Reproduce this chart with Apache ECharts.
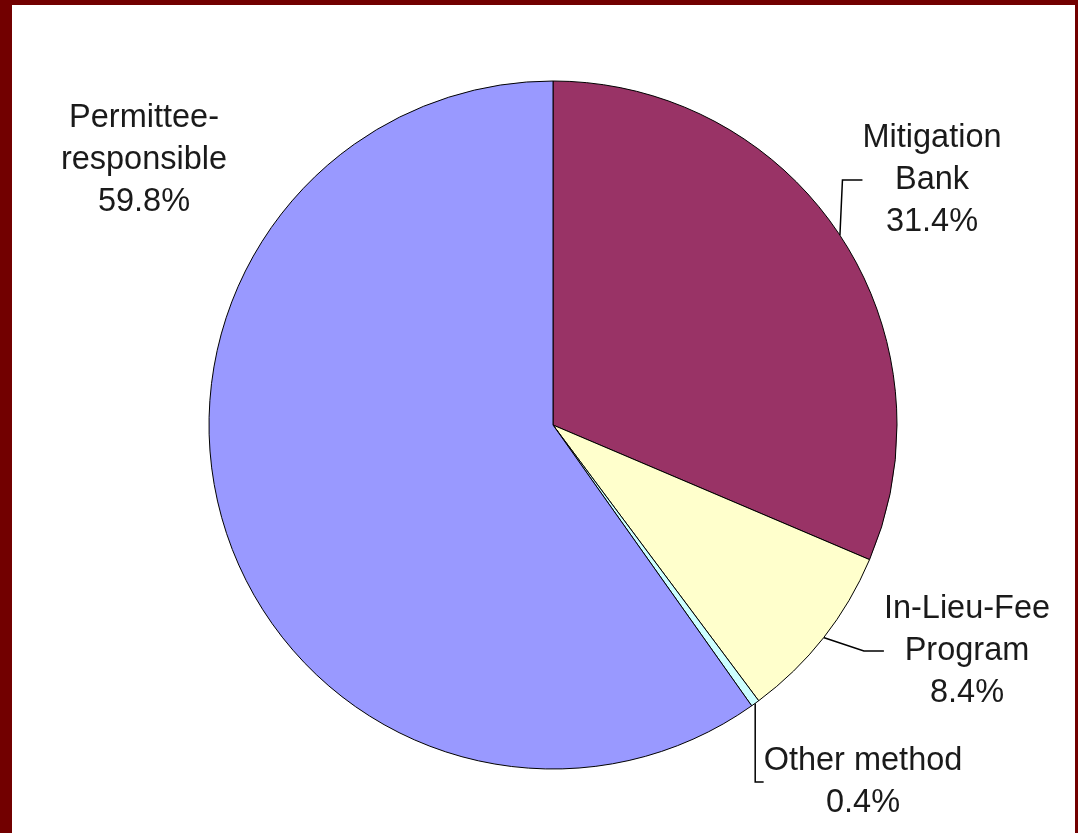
<!DOCTYPE html>
<html>
<head>
<meta charset="utf-8">
<script src="https://cdn.jsdelivr.net/npm/echarts@6/dist/echarts.min.js"></script>
<style>
    html, body { margin: 0; padding: 0; background: #fff; }
    #container {
        width: 1078px;
        height: 833px;
        box-sizing: border-box;
        border-left: 12px solid #720000;
        border-top: 5px solid #720000;
        border-right: 3px solid #720000;
        background: #fff;
    }
</style>
</head>
<body>
<div id="container"></div>
<script>
// data (clockwise from 12 o'clock)
var names = ['Mitigation\nBank', 'In-Lieu-Fee\nProgram', 'Other method', 'Permittee-\nresponsible'];
var values = [31.4, 8.4, 0.4, 59.8];
var colors = ['#993366', '#ffffcc', '#ccffff', '#9999ff'];
// where each label sits, in px of the chart area
var labelAnchors = [[920, 175], [955, 646], [851, 777], [132, 155]];
var showLine = [true, true, true, false];

var dom = document.getElementById('container');
var myChart = echarts.init(dom);

var pieData = names.map(function (n, i) {
    return {
        name: n,
        value: values[i],
        itemStyle: { color: colors[i] },
        labelLine: { show: showLine[i] }
    };
});

var option = {
    animation: false,
    backgroundColor: '#fff',
    series: [
        {
            type: 'pie',
            center: [541, 420],
            radius: 344,
            startAngle: 90,
            clockwise: true,
            avoidLabelOverlap: false,
            data: pieData,
            itemStyle: {
                borderColor: '#000',
                borderWidth: 1
            },
            label: {
                show: true,
                formatter: function (p) {
                    return p.name + '\n' + p.value.toFixed(1) + '%';
                },
                fontFamily: 'Liberation Sans, Arial, sans-serif',
                fontSize: 32.5,
                lineHeight: 42,
                color: '#1a1a1a',
                align: 'center'
            },
            labelLine: {
                lineStyle: { color: '#000', width: 1.5 },
                length: 20,
                length2: 20
            },
            labelLayout: function (params) {
                var a = labelAnchors[params.dataIndex];
                return {
                    x: a[0],
                    y: a[1],
                    align: 'center',
                    verticalAlign: 'middle'
                };
            },
            emphasis: { disabled: true }
        }
    ]
};
myChart.setOption(option);
</script>
</body>
</html>
